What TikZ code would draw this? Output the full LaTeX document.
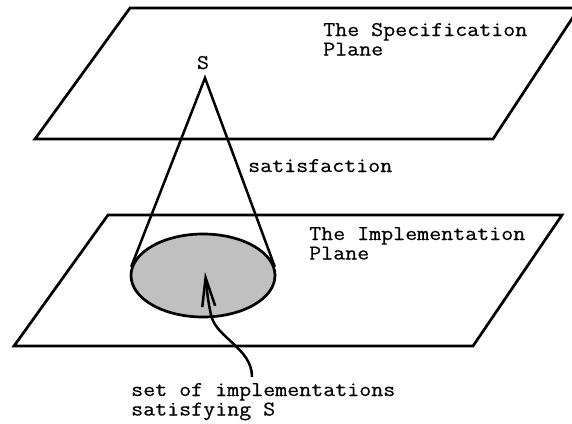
\documentclass[tikz,border=0pt]{standalone}
\usepackage{fontspec}
\setmonofont[FakeStretch=1.11,FakeBold=0.4]{Latin Modern Mono}
\usetikzlibrary{shapes.geometric,arrows.meta}
\definecolor{implgray}{RGB}{192,192,192}

\begin{document}
\begin{tikzpicture}[x=1pt,y=-1pt]

    \clip (0,0) rectangle (572,423);

    \tikzset{plane/.style={line width=2.7pt, line join=miter},
             lbl/.style={font=\ttfamily\fontsize{21}{19.5}\selectfont, inner sep=0pt, align=left}}

    % the two planes
    \draw[plane] (130,8) -- (579,8) -- (493,139) -- (35,139) -- cycle;
    \draw[plane] (108,215) -- (562,215) -- (473,346) -- (14,346) -- cycle;

    \node[ellipse, draw, line width=2.7pt, fill=implgray, minimum width=144pt, minimum height=83pt, inner sep=0pt] (impl) at (203,275.5) {};

    \coordinate (apex) at (205,78);
    \draw[line width=2.5pt] (impl.173) -- (apex) -- (impl.7);

    % multi-line labels sit on the baseline of their last line
    \node[lbl, anchor=base west] (spec) at (323,55.5) {The Specification\\Plane};
    \node[lbl, anchor=base west] (implplane) at (309,259.5) {The Implementation\\Plane};
    \node[lbl, anchor=base] (s) at (203,69) {S};
    \node[lbl, anchor=base west] (sat) at (248,172) {satisfaction};
    \node[lbl, anchor=base west] (set) at (131,415.5) {set of implementations\\satisfying S};

    \coordinate (tail) at (252,377);
    \coordinate (tip) at (205,272);
    \draw[line width=2.5pt, -{Straight Barb[length=29pt,width=13pt]}] (tail) .. controls (252,348) and (216,338) .. (211,315) .. controls (208,300) .. (tip);

\end{tikzpicture}
\end{document}
